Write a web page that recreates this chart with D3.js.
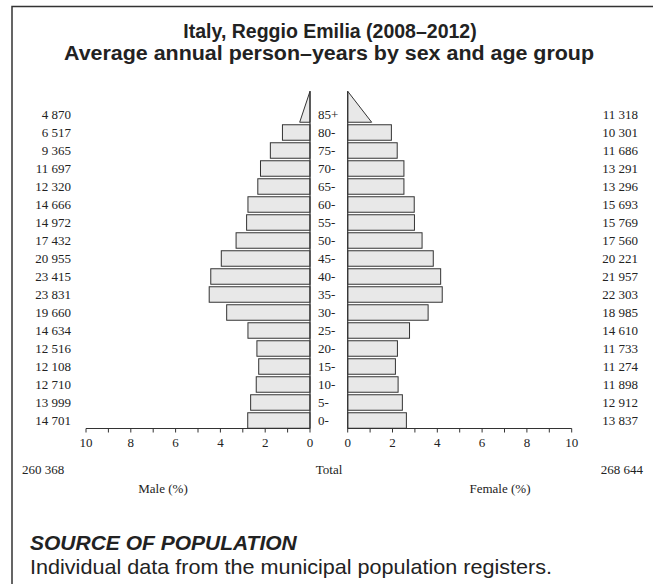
<!DOCTYPE html>
<html><head><meta charset="utf-8">
<script src="https://cdn.jsdelivr.net/npm/d3@7"></script>
<style>body{margin:0;background:#fff}svg{display:block}</style>
</head><body>
<script>
const ageGroups = ["85+","80-","75-","70-","65-","60-","55-","50-","45-","40-","35-","30-","25-","20-","15-","10-","5-","0-"];
const maleCounts = ["4 870","6 517","9 365","11 697","12 320","14 666","14 972","17 432","20 955","23 415","23 831","19 660","14 634","12 516","12 108","12 710","13 999","14 701"];
const femaleCounts = ["11 318","10 301","11 686","13 291","13 296","15 693","15 769","17 560","20 221","21 957","22 303","18 985","14 610","11 733","11 274","11 898","12 912","13 837"];
const malePct = [0.92,1.23,1.77,2.21,2.33,2.77,2.83,3.30,3.96,4.43,4.50,3.72,2.77,2.37,2.29,2.40,2.65,2.78];
const femalePct = [2.14,1.95,2.21,2.51,2.51,2.97,2.98,3.32,3.82,4.15,4.22,3.59,2.76,2.22,2.13,2.25,2.44,2.62];
const axisTicks = [0,2,4,6,8,10];
const minorTicks = [0,1,2,3,4,5,6,7,8,9,10];
const totals = {male:"260 368", female:"268 644"};

const W=654,H=584;
const svg=d3.select("body").append("svg").attr("width",W).attr("height",H);
const serif="'Liberation Serif','Times New Roman',serif";
const sans="'Liberation Sans',Arial,sans-serif";

// frame
svg.append("path").attr("d","M12,584V6.5H653").attr("fill","none").attr("stroke","#333").attr("stroke-width",1.5);

// title
svg.append("text").attr("x",330).attr("y",38).attr("text-anchor","middle").attr("font-family",sans).attr("font-weight","bold").attr("font-size",19.5).attr("fill","#222").text("Italy, Reggio Emilia (2008–2012)");
svg.append("text").attr("x",329).attr("y",60).attr("text-anchor","middle").attr("font-family",sans).attr("font-weight","bold").attr("font-size",19.5).attr("fill","#222")
  .attr("textLength",530).attr("lengthAdjust","spacingAndGlyphs").text("Average annual person–years by sex and age group");

const xL=d3.scaleLinear().domain([0,10]).range([310,86]);
const xR=d3.scaleLinear().domain([0,10]).range([347.7,571.7]);
const y=d3.scaleBand().domain(ageGroups).range([105.5,429.5]).paddingInner(0.14).paddingOuter(0.07);
const bw=y.bandwidth();
const fill="#e8e8e8", stroke="#333";

const rows=ageGroups.map((a,i)=>({a,m:malePct[i],f:femalePct[i],mc:maleCounts[i],fc:femaleCounts[i]}));
const open=rows[0], closed=rows.slice(1);

svg.selectAll("rect.m").data(closed).join("rect").attr("class","m")
  .attr("x",d=>xL(d.m)).attr("y",d=>y(d.a)).attr("width",d=>xL(0)-xL(d.m)).attr("height",bw)
  .attr("fill",fill).attr("stroke",stroke).attr("stroke-width",1);
svg.selectAll("rect.f").data(closed).join("rect").attr("class","f")
  .attr("x",xR(0)).attr("y",d=>y(d.a)).attr("width",d=>xR(d.f)-xR(0)).attr("height",bw)
  .attr("fill",fill).attr("stroke",stroke).attr("stroke-width",1);

// open-ended age group triangles
const tb=y(open.a)+bw, tt=tb-2*bw;
svg.append("path").attr("d",`M${xL(0)},${tt}L${xL(open.m/2)},${tb}L${xL(0)},${tb}Z`).attr("fill",fill).attr("stroke",stroke);
svg.append("path").attr("d",`M${xR(0)},${tt}L${xR(open.f/2)},${tb}L${xR(0)},${tb}Z`).attr("fill",fill).attr("stroke",stroke);

// central vertical lines
[xL(0),xR(0)].forEach(x=>svg.append("line").attr("x1",x).attr("x2",x).attr("y1",tt).attr("y2",428.5).attr("stroke",stroke).attr("stroke-width",1.2));

// labels
const cy=d=>y(d.a)+bw/2+4.5;
svg.selectAll("text.age").data(rows).join("text").attr("class","age").attr("x",318).attr("y",cy).attr("font-family",serif).attr("font-size",13).attr("fill","#222").text(d=>d.a);
svg.selectAll("text.mc").data(rows).join("text").attr("class","mc").attr("x",71).attr("y",cy).attr("text-anchor","end").attr("font-family",serif).attr("font-size",13).attr("fill","#222").text(d=>d.mc);
svg.selectAll("text.fc").data(rows).join("text").attr("class","fc").attr("x",638).attr("y",cy).attr("text-anchor","end").attr("font-family",serif).attr("font-size",13).attr("fill","#222").text(d=>d.fc);

// axes
function drawAxis(scale){
  const g=svg.append("g").attr("transform","translate(0,428.5)");
  g.append("line").attr("x1",scale(0)).attr("x2",scale(10)).attr("stroke",stroke).attr("stroke-width",1.2);
  g.selectAll("line.t").data(minorTicks).join("line").attr("class","t").attr("x1",scale).attr("x2",scale).attr("y1",0).attr("y2",4).attr("stroke",stroke);
  g.selectAll("text").data(axisTicks).join("text").attr("x",scale).attr("y",18).attr("text-anchor","middle").attr("font-family",serif).attr("font-size",13).attr("fill","#222").text(d=>d);
}
drawAxis(xL); drawAxis(xR);

svg.append("text").attr("x",22).attr("y",474).attr("font-family",serif).attr("font-size",13).attr("fill","#222").text(totals.male);
svg.append("text").attr("x",329).attr("y",474).attr("text-anchor","middle").attr("font-family",serif).attr("font-size",13).attr("fill","#222").text("Total");
svg.append("text").attr("x",643).attr("y",474).attr("text-anchor","end").attr("font-family",serif).attr("font-size",13).attr("fill","#222").text(totals.female);
svg.append("text").attr("x",163).attr("y",493).attr("text-anchor","middle").attr("font-family",serif).attr("font-size",13).attr("fill","#222").text("Male (%)");
svg.append("text").attr("x",500).attr("y",493).attr("text-anchor","middle").attr("font-family",serif).attr("font-size",13).attr("fill","#222").text("Female (%)");

svg.append("text").attr("x",30).attr("y",550).attr("font-family",sans).attr("font-weight","bold").attr("font-style","italic").attr("font-size",21).attr("fill","#222").text("SOURCE OF POPULATION");
svg.append("text").attr("x",30).attr("y",574).attr("font-family",sans).attr("font-size",21).attr("fill","#222")
  .attr("textLength",522).attr("lengthAdjust","spacingAndGlyphs").text("Individual data from the municipal population registers.");
</script>
</body></html>
